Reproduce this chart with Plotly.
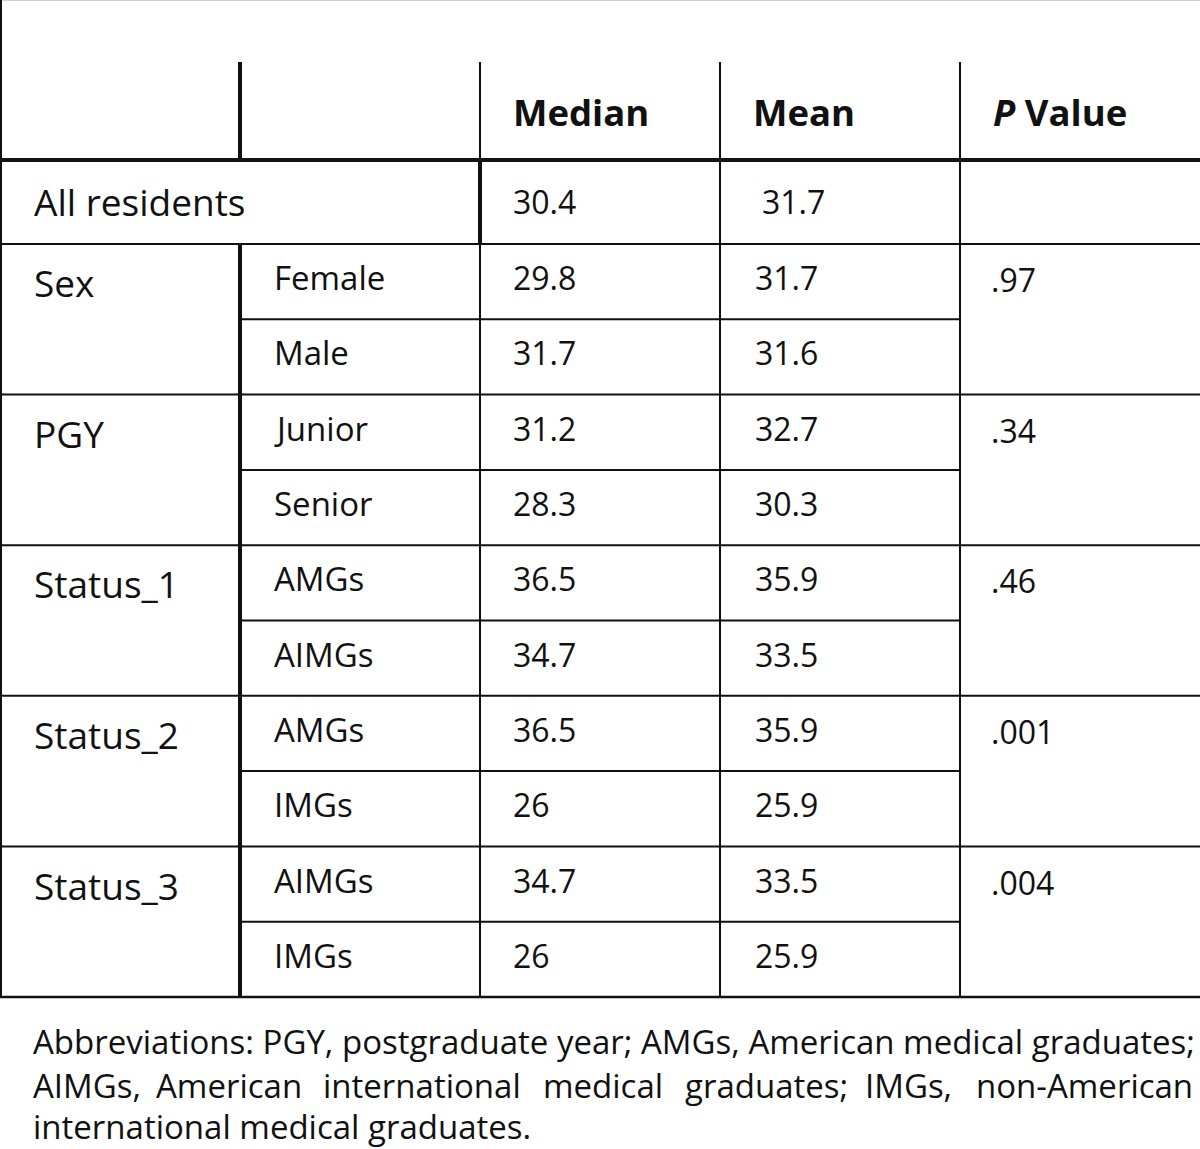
import plotly.graph_objects as go

# ---- data ----
header_labels = ["Median", "Mean", "<i>P</i> Value"]
all_label = "All residents"
all_median = "30.4"
all_mean = "31.7"

groups = ["Sex", "PGY", "Status_1", "Status_2", "Status_3"]
sub_labels = [["Female", "Male"], ["Junior", "Senior"], ["AMGs", "AIMGs"],
              ["AMGs", "IMGs"], ["AIMGs", "IMGs"]]
medians = [["29.8", "31.7"], ["31.2", "28.3"], ["36.5", "34.7"],
           ["36.5", "26"], ["34.7", "26"]]
means = [["31.7", "31.6"], ["32.7", "30.3"], ["35.9", "33.5"],
         ["35.9", "25.9"], ["33.5", "25.9"]]
p_values = [".97", ".34", ".46", ".001", ".004"]

footnote_line1 = "Abbreviations: PGY, postgraduate year; AMGs, American medical graduates;"
footnote_line2_words = ["AIMGs,", "American", "international", "medical",
                        "graduates;", "IMGs,", "non-American"]
footnote_line3 = "international medical graduates."

# ---- layout geometry (pixels) ----
W, H = 1200, 1149
col_x = [0, 240, 480, 720, 960, 1200]
head_top, head_bot = 62, 160
all_bot = 244
sub_h = (997 - all_bot) / (2 * len(groups))
line2_x = [32, 155, 322, 542, 684, 864]  # justified word starts (last word right-aligned)

TABLE_FONT = "Open Sans, Noto Sans, sans-serif"
NOTE_FONT = "Open Sans, Noto Sans, sans-serif"
BLACK = "#111111"

fig = go.Figure()
shapes = []
ann = []


def hline(y, x0, x1, w, color=BLACK):
    shapes.append(dict(type="line", xref="x", yref="y", x0=x0, x1=x1, y0=y, y1=y,
                       line=dict(color=color, width=w)))


def vline(x, y0, y1, w):
    shapes.append(dict(type="line", xref="x", yref="y", x0=x, x1=x, y0=y0, y1=y1,
                       line=dict(color=BLACK, width=w)))


def text(x, y, s, size, bold=False, font=TABLE_FONT, anchor="left"):
    ann.append(dict(x=x, y=y, xref="x", yref="y", text=(f"<b>{s}</b>" if bold else s),
                    showarrow=False, xanchor=anchor, yanchor="middle",
                    font=dict(family=font, size=size, color=BLACK)))


table_bot = all_bot + 2 * sub_h * len(groups)

# outer borders
hline(0.5, 0, W, 1, color="#cfcfcf")
vline(1, 0, table_bot, 2)

# header
vline(col_x[1], head_top, head_bot, 4)
for cx in col_x[2:5]:
    vline(cx, head_top, head_bot, 2)
hline(head_bot, 0, W, 4)
for i, lab in enumerate(header_labels):
    text(col_x[2 + i] + 31, (head_top + head_bot) / 2 + 1, lab, 36.5, bold=True)

# all residents row
vline(col_x[2], head_bot, all_bot, 4)
vline(col_x[3], head_bot, all_bot, 2)
vline(col_x[4], head_bot, all_bot, 2)
hline(all_bot, 0, W, 2)
text(32, (head_bot + all_bot) / 2 - 1, all_label, 37)
text(col_x[2] + 31, (head_bot + all_bot) / 2 - 1, all_median, 32)
text(col_x[3] + 40, (head_bot + all_bot) / 2 - 1, all_mean, 32)

# groups
for g, name in enumerate(groups):
    gy0 = all_bot + 2 * sub_h * g
    gy1 = gy0 + 2 * sub_h
    vline(col_x[1], gy0, gy1, 4)
    for cx in col_x[2:5]:
        vline(cx, gy0, gy1, 2)
    hline(gy0 + sub_h, col_x[1], col_x[4], 2)
    hline(gy1, 0, W, 2.5 if g == len(groups) - 1 else 2)
    text(32, gy0 + sub_h / 2 + 1, name, 37)
    text(col_x[4] + 29, gy0 + sub_h / 2 - 2, p_values[g], 32)
    for k in range(2):
        yc = gy0 + sub_h * k + sub_h / 2 - 4
        text(col_x[1] + 32, yc, sub_labels[g][k], 33)
        text(col_x[2] + 31, yc, medians[g][k], 32)
        text(col_x[3] + 33, yc, means[g][k], 32)

# footnote
text(31, 1041, footnote_line1, 33, font=NOTE_FONT)
for i, w in enumerate(footnote_line2_words):
    if i < len(line2_x):
        text(line2_x[i] - 1, 1085, w, 33, font=NOTE_FONT)
    else:
        text(1195, 1085, w, 33, font=NOTE_FONT, anchor="right")
text(31, 1126, footnote_line3, 33, font=NOTE_FONT)

fig.update_layout(
    width=W, height=H, margin=dict(l=0, r=0, t=0, b=0),
    paper_bgcolor="white", plot_bgcolor="white",
    xaxis=dict(range=[0, W], visible=False, fixedrange=True),
    yaxis=dict(range=[H, 0], visible=False, fixedrange=True),
    shapes=shapes, annotations=ann, showlegend=False,
)
fig.write_html(
    "out.html",
    config={"displayModeBar": False, "staticPlot": True},
    post_script="document.body.style.margin='0';document.body.style.overflow='hidden';",
)
